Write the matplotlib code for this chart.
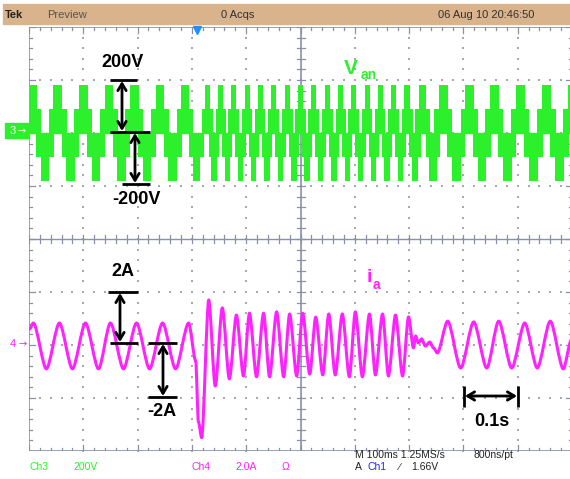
import matplotlib.pyplot as plt
import numpy as np
from matplotlib.patches import Rectangle, PathPatch
from matplotlib.path import Path

W, H = 570, 479

# Ch3 (Van): centre of every positive half-cycle block, ms from screen centre
van_centres = [-494, -447, -400, -353, -306, -259, -212,
               -171, -147, -123, -98, -74, -50, -24, 0, 24, 50, 74, 98,
               123, 147, 171, 197, 225, 263, 311, 357, 405, 453, 501]
van_levels = [90, 182]  # V, inner and outer step of the staircase

# Ch4 (ia): turning points, ms / A
ia_t = [-499, -492, -468, -444, -420, -396, -372, -350, -326, -302, -278, -254, -230, -206,
        -193, -188, -182, -169, -157, -144, -131, -118, -105, -94, -81, -68, -57, -44, -31,
        -20, -7, 4, 17, 28, 41, 52, 64, 77, 90, 101, 114, 127, 138, 151, 162, 175, 188, 199,
        208, 212, 217, 223, 230, 238, 245, 252,
        271, 295, 319, 343, 365, 389, 413, 436, 460, 484, 499]
ia_a = [0.6, 0.83, -0.9, 0.83, -0.9, 0.83, -0.9, 0.83, -0.9, 0.83, -0.9, 0.83, -0.9, 0.83,
        -0.6, -2.9, -3.5, 1.7, -1.55, 1.4, -1.28, 1.13, -1.17, 1.2, -1.2, 1.2, -1.2, 1.25, -1.2,
        1.17, -1.17, 1.2, -1.1, 1.05, -1.13, 1.17, -1.13, 1.17, -1.2, 1.25, -1.2, 1.17, -1.13,
        1.17, -1.17, 1.13, -1.17, 1.06,
        -0.11, 0.34, 0.08, 0.23, -0.04, 0.11, -0.11, -0.3,
        0.9, -0.87, 0.87, -0.87, 0.9, -0.87, 0.83, -0.87, 0.9, -0.9, 0.2]

GREEN = '#2cf02c'
MAGENTA = '#ff22ff'
FRAME = '#8a90a8'
DOT = '#a9a9a9'
TAN = '#d8b38c'

fig = plt.figure(figsize=(W / 100, H / 100), dpi=100)
fig.patch.set_facecolor('white')

# scope screen: 10 x 8 divisions, 100 ms/div
ax = fig.add_axes([29 / W, (H - 451) / H, 543 / W, 424 / H])
ax.set_xlim(-500, 500)
ax.set_ylim(-4, 4)
ax.axis('off')

# dotted graticule
for xv in range(-400, 500, 100):
    if xv == 0:
        continue
    yy = np.arange(-4, 4.01, 0.2)
    ax.scatter(np.full(len(yy), xv), yy, s=1.3, marker='s', color=DOT, linewidths=0, zorder=1)
for yv in range(-3, 4):
    if yv == 0:
        continue
    xx = np.arange(-500, 501, 20)
    ax.scatter(xx, np.full(len(xx), yv), s=1.3, marker='s', color=DOT, linewidths=0, zorder=1)

# frame and centre cross with ticks
px_x = 1000 / 543  # ms per pixel
px_y = 8 / 424     # div per pixel
ax.plot([-500, -500], [-4, 4], color=FRAME, lw=1.2, zorder=2)
ax.plot([500, 500], [-4, 4], color=FRAME, lw=1.2, zorder=2)
ax.plot([-500, 500], [4, 4], color=FRAME, lw=1.2, zorder=2)
ax.plot([-500, 500], [-4, -4], color=FRAME, lw=1.2, zorder=2)
ax.plot([0, 0], [-4, 4], color=FRAME, lw=1.2, zorder=2)
ax.plot([-500, 500], [0, 0], color=FRAME, lw=1.0, zorder=2)
for xv in np.arange(-500, 501, 20):
    ln = 6 if xv % 100 == 0 else 3
    ax.plot([xv, xv], [4, 4 - ln * px_y], color=FRAME, lw=0.9, zorder=2)
    ax.plot([xv, xv], [-4, -4 + ln * px_y], color=FRAME, lw=0.9, zorder=2)
    ax.plot([xv, xv], [-4 * px_y, 4 * px_y], color=FRAME, lw=0.9, zorder=2)
for yv in np.arange(-4, 4.01, 0.2):
    ln = 6 if abs(yv - round(yv)) < 1e-6 else 3
    ax.plot([-500, -500 + ln * px_x], [yv, yv], color=FRAME, lw=0.9, zorder=2)
    ax.plot([500, 500 - ln * px_x], [yv, yv], color=FRAME, lw=0.9, zorder=2)
    ax.plot([-4 * px_x, 4 * px_x], [yv, yv], color=FRAME, lw=0.9, zorder=2)

# Ch3 trace, 200 V/div, ground at +2 div
ax.plot([-500, 500], [2, 2], color=GREEN, lw=1.0, zorder=3)
v_mid, v_full = van_levels[0] / 200, van_levels[1] / 200
for i, c in enumerate(van_centres):
    p = van_centres[i + 1] - c if i + 1 < len(van_centres) else c - van_centres[i - 1]
    w_mid = 0.6 * p + 2.5 * px_x
    w_full = 0.26 * p + 2.0 * px_x
    for cc, sgn in ((c, 1), (c + p / 2, -1)):
        ax.bar(cc, sgn * v_mid, width=w_mid, bottom=2, color=GREEN, linewidth=0, zorder=3)
        ax.bar(cc, sgn * (v_full - v_mid), width=w_full, bottom=2 + sgn * v_mid,
               color=GREEN, linewidth=0, zorder=3)

# Ch4 trace, 2 A/div, ground at -2 div; smooth Bezier segments between turning points
ys = [-2 + a / 2 for a in ia_a]
verts = [(ia_t[0], ys[0])]
codes = [Path.MOVETO]
for k in range(1, len(ia_t)):
    t0, y0, t1, y1 = ia_t[k - 1], ys[k - 1], ia_t[k], ys[k]
    d = 0.28 * (t1 - t0)
    verts += [(t0 + d, y0), (t1 - d, y1), (t1, y1)]
    codes += [Path.CURVE4] * 3
ax.add_patch(PathPatch(Path(verts, codes), facecolor='none', edgecolor=MAGENTA,
                       lw=2.2, zorder=3, capstyle='round', joinstyle='round'))

# trigger position marker
ax.plot([-191], [4 - 2.5 * px_y], marker='v', ms=6, color='#1f8fff', clip_on=False, zorder=5)

# pixel-space overlay for labels and annotations
ov = fig.add_axes([0, 0, 1, 1])
ov.set_xlim(0, W)
ov.set_ylim(H, 0)
ov.axis('off')
ov.patch.set_alpha(0)

narrow = ['Liberation Sans Narrow', 'Liberation Sans', 'DejaVu Sans']
bold = ['Liberation Sans', 'DejaVu Sans']

# header bar
ov.add_patch(Rectangle((3, 4), W - 3, 20, color=TAN, zorder=1))
ov.text(5, 15, 'Tek', fontsize=8, family=narrow, weight='bold', color='#222', va='center')
ov.text(47, 15, 'Preview', fontsize=8, family=narrow, color='#555', va='center')
ov.text(221, 15, '0 Acqs', fontsize=8, family=narrow, color='#333', va='center')
ov.text(438, 15, '06 Aug 10 20:46:50', fontsize=8, family=narrow, color='#333', va='center')

# channel ground markers
ov.add_patch(Rectangle((5, 123), 24, 15, color=GREEN, zorder=4))
ov.text(13, 131, '3', fontsize=8, family=narrow, color='white', ha='center', va='center', zorder=5)
ov.text(22, 131, '\u2192', fontsize=7, color='white', ha='center', va='center', zorder=5)
ov.text(13, 344, '4', fontsize=8, family=narrow, color=MAGENTA, ha='center', va='center')
ov.text(23, 344, '\u2192', fontsize=7, color=MAGENTA, ha='center', va='center')

# status line
ov.text(29, 467, 'Ch3', fontsize=7.5, family=narrow, color=GREEN, va='center')
ov.text(73, 467, '200V', fontsize=7.5, family=narrow, color=GREEN, va='center')
ov.text(191, 467, 'Ch4', fontsize=7.5, family=narrow, color=MAGENTA, va='center')
ov.text(235, 467, '2.0A', fontsize=7.5, family=narrow, color=MAGENTA, va='center')
ov.text(282, 467, '\u03a9', fontsize=7.5, family=narrow, color=MAGENTA, va='center')
ov.text(355, 455, 'M 100ms 1.25MS/s', fontsize=7.5, family=narrow, color='#222', va='center')
ov.text(473, 455, '800ns/pt', fontsize=7.5, family=narrow, color='#222', va='center')
ov.text(355, 467, 'A', fontsize=7.5, family=narrow, color='#222', va='center')
ov.text(367, 467, 'Ch1', fontsize=7.5, family=narrow, color='#2222ff', va='center')
ov.text(398, 467, '\u2215', fontsize=7.5, family=narrow, color='#222', va='center')
ov.text(411, 467, '1.66V', fontsize=7.5, family=narrow, color='#222', va='center')

# black dimension arrows
def dim_arrow(x0, y0, x1, y1):
    ov.annotate('', xy=(x1, y1), xytext=(x0, y0),
                arrowprops=dict(arrowstyle='<->,head_length=0.5,head_width=0.3',
                                color='black', lw=2, shrinkA=0, shrinkB=0), zorder=6)

def bar(x0, x1, y0, y1):
    ov.plot([x0, x1], [y0, y1], color='black', lw=2, zorder=6, solid_capstyle='butt')

bar(110, 137, 80, 80)
bar(110, 150, 132, 132)
bar(122, 150, 184, 184)
dim_arrow(122, 81, 122, 131)
dim_arrow(135, 133, 135, 183)

bar(108, 138, 292, 292)
bar(110, 138, 343, 343)
bar(148, 177, 343, 343)
bar(148, 177, 397, 397)
dim_arrow(120, 293, 120, 342)
dim_arrow(163, 344, 163, 396)

bar(464, 464, 386, 407)
bar(518, 518, 386, 407)
dim_arrow(465, 396, 517, 396)

ov.text(122, 62, '200V', fontsize=13, family=bold, weight='bold', ha='center', va='center', zorder=6)
ov.text(136, 199, '-200V', fontsize=13, family=bold, weight='bold', ha='center', va='center', zorder=6)
ov.text(123, 271, '2A', fontsize=13, family=bold, weight='bold', ha='center', va='center', zorder=6)
ov.text(162, 412, '-2A', fontsize=13, family=bold, weight='bold', ha='center', va='center', zorder=6)
ov.text(492, 421, '0.1s', fontsize=13, family=bold, weight='bold', ha='center', va='center', zorder=6)

# trace labels
ov.text(344, 74, 'V', fontsize=15, family=bold, weight='bold', color=GREEN, va='baseline', zorder=6)
ov.text(361, 79, 'an', fontsize=10, family=bold, weight='bold', color=GREEN, va='baseline', zorder=6)
ov.text(367, 282, 'i', fontsize=14, family=bold, weight='bold', color=MAGENTA, va='baseline', zorder=6)
ov.text(373, 289, 'a', fontsize=10, family=bold, weight='bold', color=MAGENTA, va='baseline', zorder=6)

fig.savefig('out.png', dpi=100)
